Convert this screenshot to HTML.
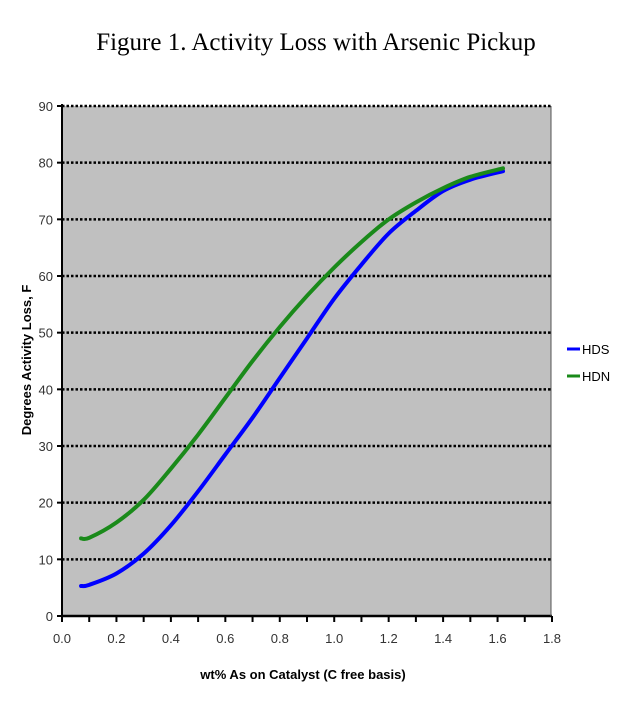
<!DOCTYPE html>
<html><head><meta charset="utf-8"><style>
body{margin:0;background:#fff;}
svg{display:block;}
</style></head><body>
<svg width="632" height="715" xmlns="http://www.w3.org/2000/svg">
<text x="316" y="50" text-anchor="middle" font-family="Liberation Serif, serif" font-size="25" fill="#000">Figure 1. Activity Loss with Arsenic Pickup</text>
<rect x="62" y="106" width="489" height="510" fill="#c0c0c0"/>
<g id="grid"></g>
<line x1="62" y1="104" x2="62" y2="617" stroke="#000" stroke-width="2"/>
<line x1="62" y1="616" x2="552" y2="616" stroke="#000" stroke-width="2.5"/>
<line x1="551" y1="106" x2="551" y2="616" stroke="#555" stroke-width="1"/>
<g id="yticks"></g><g id="xticks"></g><g id="series"></g>
<text transform="translate(31,360) rotate(-90)" text-anchor="middle" font-family="Liberation Sans, sans-serif" font-weight="bold" font-size="13" fill="#000">Degrees Activity Loss, F</text>
<text x="303" y="679" text-anchor="middle" font-family="Liberation Sans, sans-serif" font-weight="bold" font-size="13" fill="#000">wt% As on Catalyst (C free basis)</text>
<g>
<line x1="567" y1="349" x2="580" y2="349" stroke="#0000ff" stroke-width="3"/>
<text x="582" y="354" font-family="Liberation Sans, sans-serif" font-size="13" fill="#000">HDS</text>
<line x1="567" y1="376" x2="580" y2="376" stroke="#1a8a1a" stroke-width="3"/>
<text x="582" y="381" font-family="Liberation Sans, sans-serif" font-size="13" fill="#000">HDN</text>
</g>
</svg>
<script>
const xValues=[0.07,0.1,0.2,0.3,0.4,0.5,0.6,0.7,0.8,0.9,1.0,1.1,1.2,1.3,1.4,1.5,1.62];
const hdsValues=[5.3,5.5,7.5,11,16,22,28.5,35,42,49,56,62,67.5,71.5,75,77,78.5];
const hdnValues=[13.7,13.8,16.5,20.5,26,32,38.5,45,51,56.5,61.5,66,70,73,75.5,77.5,79];
const yTicks=[0,10,20,30,40,50,60,70,80,90];
const xTicks=[0,0.2,0.4,0.6,0.8,1.0,1.2,1.4,1.6,1.8];
const NS="http://www.w3.org/2000/svg";
const X=v=>62+v/1.8*490;
const Y=v=>616-v/90*510;
function mk(t,a,p){const e=document.createElementNS(NS,t);for(const k in a)e.setAttribute(k,a[k]);p.appendChild(e);return e;}
const grid=document.getElementById('grid'),yt=document.getElementById('yticks'),xt=document.getElementById('xticks'),ser=document.getElementById('series');
yTicks.forEach(v=>{
 if(v>0){const g=mk('line',{x1:62,y1:Y(v),x2:551,y2:Y(v),stroke:'#000','stroke-width':2.5,'stroke-dasharray':'2.5 2'},grid);
 
 }
 const tk=mk('line',{x1:57,y1:Y(v),x2:62,y2:Y(v),stroke:'#000','stroke-width':2},yt);
 
 
 const t=mk('text',{x:53,y:Y(v)+5,'text-anchor':'end','font-family':'Liberation Sans, sans-serif','font-size':13,fill:'#333'},yt);
 t.textContent=v;
 
 
});
for(let i=0;i<=18;i++){
 const v=i/10;
 const tk=mk('line',{x1:X(v),y1:616,x2:X(v),y2:622,stroke:'#000','stroke-width':2},xt);
 
 
}
xTicks.forEach(v=>{
 const t=mk('text',{x:X(v),y:643,'text-anchor':'middle','font-family':'Liberation Sans, sans-serif','font-size':13,fill:'#333'},xt);
 t.textContent=v.toFixed(1);
 
 
});
function path(ys){
 const p=xValues.map((x,i)=>[X(x),Y(ys[i])]);
 let d='M'+p[0][0]+','+p[0][1];
 for(let i=0;i<p.length-1;i++){
  const p0=p[i-1]||p[i],p1=p[i],p2=p[i+1],p3=p[i+2]||p2;
  const c1=[p1[0]+(p2[0]-p0[0])/6,p1[1]+(p2[1]-p0[1])/6],c2=[p2[0]-(p3[0]-p1[0])/6,p2[1]-(p3[1]-p1[1])/6];
  d+=' C'+c1+' '+c2+' '+p2;
 }
 return d;
}
const hds=mk('path',{d:path(hdsValues),fill:'none',stroke:'#0000ff','stroke-width':4,'stroke-linecap':'round'},ser);


const hdn=mk('path',{d:path(hdnValues),fill:'none',stroke:'#1a8a1a','stroke-width':4,'stroke-linecap':'round'},ser);


</script>
</body></html>
